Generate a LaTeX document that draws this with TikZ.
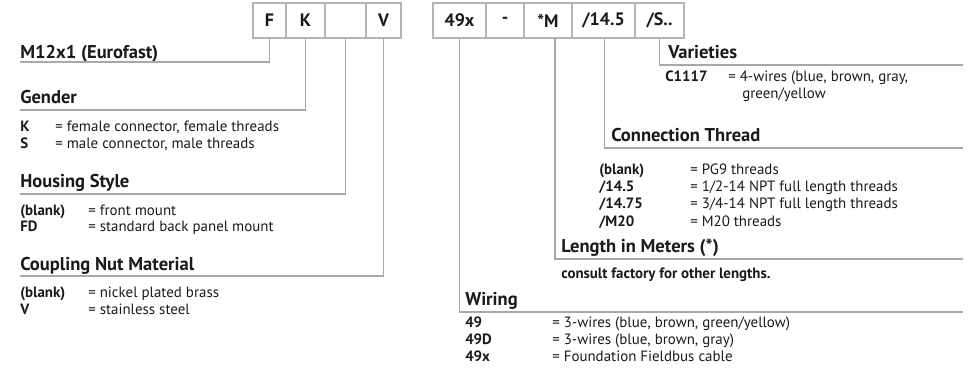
\documentclass[tikz,border=0pt]{standalone}
\usepackage{fontspec}
\setmainfont{PT Sans}
\usepackage{tikz}
\usetikzlibrary{positioning}
\definecolor{rulegray}{HTML}{A8A8A8}
\definecolor{boxgray}{HTML}{B4B4B4}
\definecolor{inkc}{HTML}{1A1A1A}
\tikzset{
  codebox/.style ={draw=boxgray, line width=0.8pt, minimum height=26.25pt, inner sep=0pt, outer sep=0pt,
                   font=\fontsize{13.5}{15}\selectfont\bfseries, text=inkc},
  lead/.style    ={draw=rulegray, line width=0.8pt},                 % box -> group underline
  grphead/.style ={anchor=base west, inner sep=0pt, font=\fontsize{13.9}{16}\selectfont\bfseries, text=inkc},
  key/.style     ={anchor=base west, inner sep=0pt, font=\fontsize{11.2}{13}\selectfont\bfseries, text=inkc},
  val/.style     ={anchor=base west, inner sep=0pt, font=\fontsize{11.2}{13}\selectfont, text=inkc},
}
\begin{document}
\begin{tikzpicture}[x=0.75pt, y=-0.75pt]
  \useasboundingbox (0,0) rectangle (973,370);

  % LEFT code boxes: F K _ V
  \node[codebox, minimum width=24.75pt, anchor=north west] (bF) at (253,3) {F};
  \node[codebox, minimum width=29.25pt, right=0pt of bF] (bK) {K};
  \node[codebox, minimum width=30.75pt, right=0pt of bK] (bH) {};
  \node[codebox, minimum width=26.25pt, right=0pt of bH] (bV) {V};

  % RIGHT code boxes: 49x - *M /14.5 /S..
  \node[codebox, minimum width=39.75pt, anchor=north west] (b49) at (433,3) {49x};
  \node[codebox, minimum width=28.5pt,  right=0pt of b49]  (bDash) {-};
  \node[codebox, minimum width=36pt,    right=0pt of bDash] (bM) {*M};
  \node[codebox, minimum width=47.25pt, right=0pt of bM]   (bThr) {/14.5};
  \node[codebox, minimum width=36.75pt, right=0pt of bThr] (bS) {/S..};

  % LEFT groups
  \node[grphead] (hEuro) at (20,59) {M12x1 (Eurofast)};
  \coordinate (uEuro) at (20,62);
  \draw[lead] (bF.south) |- (uEuro);

  \node[grphead] (hGen) at (20,104) {Gender};
  \coordinate (uGen) at (20,110);
  \draw[lead] (bK.south) |- (uGen);
  \node[key] (kGenK) at (20,132) {K};  \node[val] (vGenK) at (55,132) {= female connector, female threads};
  \node[key] (kGenS) at (20,149) {S};  \node[val] (vGenS) at (55,149) {= male connector, male threads};

  \node[grphead] (hHous) at (20,188) {Housing Style};
  \coordinate (uHous) at (20,194);
  \draw[lead] (bH.south) |- (uHous);
  \node[key] (kHousB) at (20,215) {(blank)}; \node[val] (vHousB) at (88,215) {= front mount};
  \node[key] (kHousF) at (20,232) {FD};      \node[val] (vHousF) at (88,232) {= standard back panel mount};

  \node[grphead] (hNut) at (20,270) {Coupling Nut Material};
  \coordinate (uNut) at (20,276);
  \draw[lead] (bV.south) |- (uNut);
  \node[key] (kNutB) at (20,297) {(blank)}; \node[val] (vNutB) at (88,297) {= nickel plated brass};
  \node[key] (kNutV) at (20,314) {V};       \node[val] (vNutV) at (88,314) {= stainless steel};

  % RIGHT groups
  \node[grphead] (hVar) at (668,59) {Varieties};
  \coordinate (uVar) at (963,65);
  \draw[lead] (bS.south) |- (uVar);
  \node[key] (kVarC) at (665,82) {C1117};
  \node[val] (vVarC) at (728,82) {= 4-wires (blue, brown, gray,};
  \node[val] (vVarC2) at (742,99) {green/yellow};

  \node[grphead] (hThr) at (611,142) {Connection Thread};
  \coordinate (uThr) at (963,148);
  \draw[lead] ([xshift=1pt]bThr.south) |- (uThr);
  \node[key] (kThrB) at (599,175) {(blank)}; \node[val] (vThrB) at (690,175) {= PG9 threads};
  \node[key] (kThrA) at (599,192) {/14.5};   \node[val] (vThrA) at (690,192) {= 1/2-14 NPT full length threads};
  \node[key] (kThrC) at (599,209) {/14.75};  \node[val] (vThrC) at (690,209) {= 3/4-14 NPT full length threads};
  \node[key] (kThrM) at (599,226) {/M20};    \node[val] (vThrM) at (690,226) {= M20 threads};

  \node[grphead] (hLen) at (561,252) {Length in Meters (*)};
  \coordinate (uLen) at (963,259);
  \draw[lead] ([xshift=5.25pt]bM.south) |- (uLen);
  \node[key] (kLen) at (561,278) {consult factory for other lengths.};

  \node[grphead] (hWir) at (465,305) {Wiring};
  \coordinate (uWir) at (963,312);
  \draw[lead] (b49.south) |- (uWir);
  \node[key] (kWir1) at (465,327) {49};  \node[val] (vWir1) at (552,327) {= 3-wires (blue, brown, green/yellow)};
  \node[key] (kWir2) at (465,344) {49D}; \node[val] (vWir2) at (552,344) {= 3-wires (blue, brown, gray)};
  \node[key] (kWir3) at (465,361) {49x}; \node[val] (vWir3) at (552,361) {= Foundation Fieldbus cable};
\end{tikzpicture}
\end{document}
